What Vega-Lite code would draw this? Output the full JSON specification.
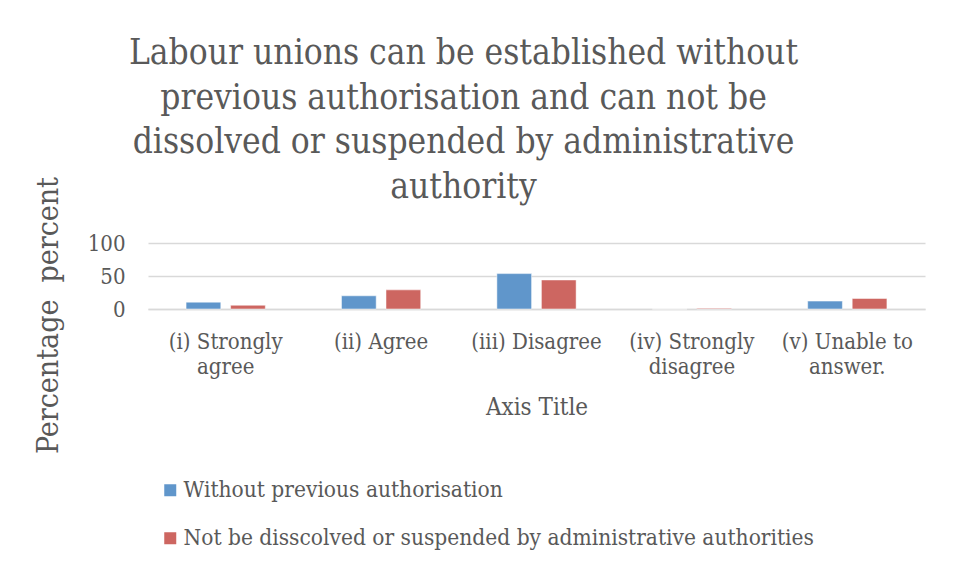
{
  "$schema": "https://vega.github.io/schema/vega-lite/v6.json",
  "width": 777,
  "height": 66,
  "autosize": {"type": "none"},
  "padding": {"left": 148, "top": 243, "right": 36, "bottom": 267},
  "background": "white",
  "config": {
    "font": "DejaVu Serif Condensed",
    "view": {"stroke": null}
  },
  "title": {
    "text": ["Labour unions can be established without", "previous authorisation and can not be", "dissolved or suspended by administrative", "authority"],
    "fontSize": 35,
    "fontWeight": "normal",
    "color": "#595959",
    "anchor": "middle",
    "dx": -73,
    "dy": 36,
    "lineHeight": 44.5,
    "offset": 8,
    "font": "DejaVu Serif Condensed"
  },
  "data": {
    "values": [
      {"category": "(i) Strongly agree", "series": "Without previous authorisation", "value": 10.4},
      {"category": "(i) Strongly agree", "series": "Not be disscolved or suspended by administrative authorities", "value": 5.7},
      {"category": "(ii) Agree", "series": "Without previous authorisation", "value": 20},
      {"category": "(ii) Agree", "series": "Not be disscolved or suspended by administrative authorities", "value": 29},
      {"category": "(iii) Disagree", "series": "Without previous authorisation", "value": 53.6},
      {"category": "(iii) Disagree", "series": "Not be disscolved or suspended by administrative authorities", "value": 44},
      {"category": "(iv) Strongly disagree", "series": "Without previous authorisation", "value": 0},
      {"category": "(iv) Strongly disagree", "series": "Not be disscolved or suspended by administrative authorities", "value": 1},
      {"category": "(v) Unable to answer.", "series": "Without previous authorisation", "value": 12},
      {"category": "(v) Unable to answer.", "series": "Not be disscolved or suspended by administrative authorities", "value": 16}
    ]
  },
  "mark": {"type": "bar", "stroke": "white", "strokeOpacity": 0.5, "strokeWidth": 1},
  "encoding": {
    "x": {
      "field": "category",
      "type": "nominal",
      "sort": null,
      "scale": {"paddingInner": 0.49, "paddingOuter": 0.245},
      "axis": {
        "title": "Axis Title",
        "titleFontSize": 24,
        "titleFontWeight": "normal",
        "titleColor": "#595959",
        "titlePadding": 18,
        "labelAngle": 0,
        "labelFontSize": 22,
        "labelColor": "#595959",
        "labelPadding": 22,
        "labelLineHeight": 25.5,
        "labelLimit": 200,
        "ticks": false,
        "domainColor": "#d9d9d9",
        "domainWidth": 1.5,
        "labelExpr": "datum.label == '(i) Strongly agree' ? ['(i) Strongly', 'agree'] : datum.label == '(iv) Strongly disagree' ? ['(iv) Strongly', 'disagree'] : datum.label == '(v) Unable to answer.' ? ['(v) Unable to', 'answer.'] : datum.label"
      }
    },
    "xOffset": {
      "field": "series",
      "type": "nominal",
      "sort": ["Without previous authorisation", "Not be disscolved or suspended by administrative authorities"],
      "scale": {"paddingInner": 0.22}
    },
    "y": {
      "field": "value",
      "type": "quantitative",
      "scale": {"domain": [0, 100]},
      "axis": {
        "values": [0, 50, 100],
        "title": "Percentage\u00a0 percent",
        "titleFontSize": 30,
        "titleFontWeight": "normal",
        "titleColor": "#595959",
        "titleAngle": -90,
        "titleX": -100,
        "titleY": 72,
        "titleBaseline": "middle",
        "titleAlign": "center",
        "labelFontSize": 22,
        "labelColor": "#595959",
        "labelPadding": 23,
        "ticks": false,
        "domain": false,
        "gridColor": "#d9d9d9",
        "gridWidth": 1.5
      }
    },
    "color": {
      "field": "series",
      "type": "nominal",
      "sort": ["Without previous authorisation", "Not be disscolved or suspended by administrative authorities"],
      "scale": {"range": ["#6096cb", "#cd6661"]},
      "legend": {
        "title": null,
        "orient": "none",
        "legendX": 11,
        "legendY": 236,
        "direction": "vertical",
        "symbolType": "square",
        "symbolSize": 144,
        "symbolStrokeWidth": 0,
        "labelFontSize": 22.5,
        "labelColor": "#595959",
        "labelOffset": 2,
        "labelLimit": 800,
        "rowPadding": 25
      }
    }
  }
}
